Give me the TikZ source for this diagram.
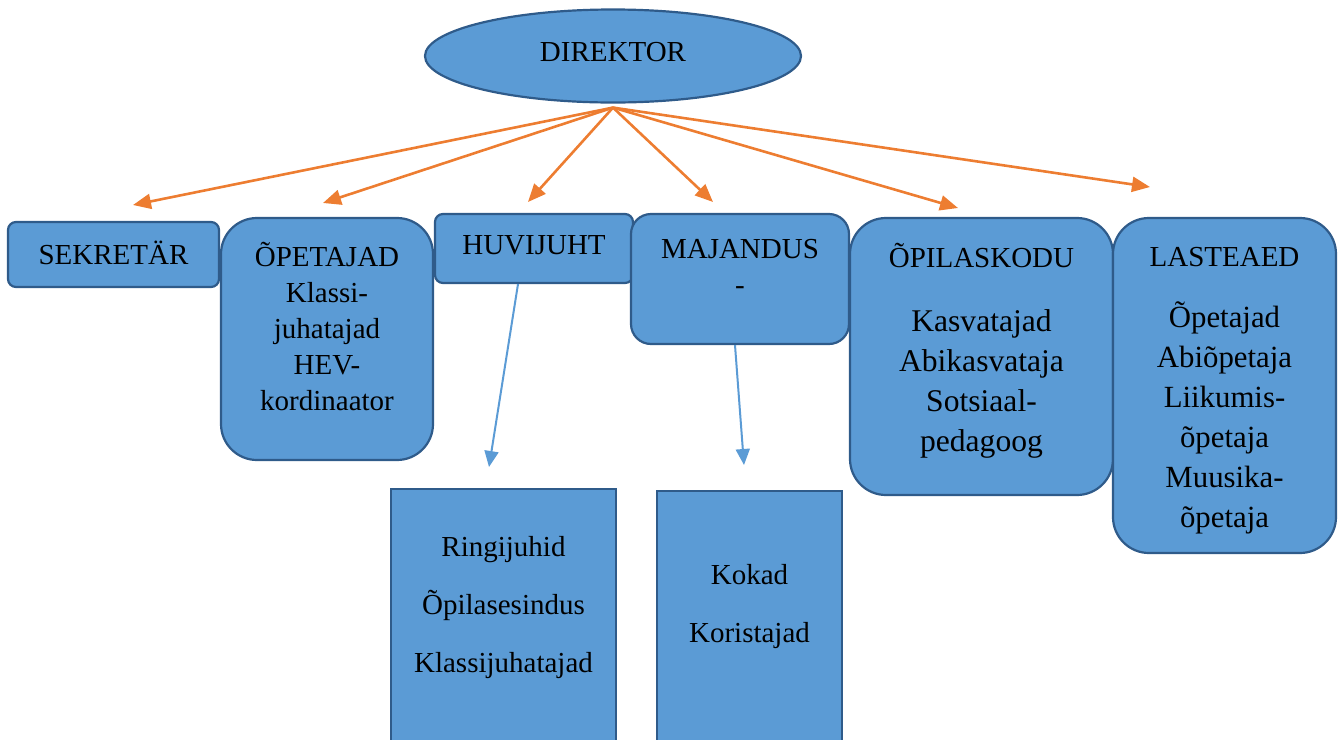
\documentclass[tikz,border=0pt]{standalone}
\usepackage{fontspec}
\setmainfont{Liberation Serif}
\usetikzlibrary{arrows.meta,positioning,shapes.geometric}
\definecolor{kastsinine}{HTML}{5B9BD5}
\definecolor{servsinine}{HTML}{2F5B8A}
\definecolor{noolroosa}{HTML}{ED7D31}

\begin{document}
\begin{tikzpicture}[x=0.5pt,y=-0.5pt,
    kast/.style={draw=servsinine, fill=kastsinine, line width=1.1pt, inner sep=0pt},
    tekst/.style={align=center, inner sep=0pt, font=\fontsize{14.5}{18}\selectfont},
    juhtnool/.style={draw=noolroosa, line width=1.3pt, -{Triangle[length=9pt,width=7.5pt]}},
    alamnool/.style={draw=kastsinine, line width=1pt, -{Triangle[length=8pt,width=7pt]}}]
  \useasboundingbox (0,0) rectangle (1341,740);

  % juhtkond
  \node[kast, ellipse, minimum width=188pt, minimum height=46.5pt,
    font=\fontsize{14.5}{18}\selectfont, text depth=4pt] (direktor) at (613,56) {DIREKTOR};

  % ulemine rida
  \node[kast, rounded corners=4pt, minimum width=105.5pt, minimum height=32.5pt,
    font=\fontsize{14.5}{18}\selectfont, text height=9.6pt, text depth=0pt] (sekretar) at (113.5,254.5) {SEKRETÄR};
  \node[kast, rounded corners=18pt, minimum width=106pt, minimum height=121pt] (opetajad) at (327,339) {};
  \node[tekst, below=12.5pt of opetajad.north] (opetajadtekst)
    {ÕPETAJAD\\Klassi-\\juhatajad\\HEV-\\kordinaator};
  \node[kast, rounded corners=4pt, minimum width=99pt, minimum height=34.5pt] (huvijuht) at (534,248.5) {};
  \node[tekst, below=10.9pt of huvijuht.north] (huvijuhttekst) {HUVIJUHT};
  \node[kast, rounded corners=10pt, minimum width=109pt, minimum height=65pt] (majandus) at (740,279) {};
  \node[tekst, below=12.9pt of majandus.north] (majandustekst) {MAJANDUS\\-};
  \node[kast, rounded corners=18pt, minimum width=131.5pt, minimum height=138.5pt] (opilaskodu) at (981.5,356.5) {};
  \node[tekst, font=\fontsize{15.8}{20}\selectfont, below=13pt of opilaskodu.north] (opilaskodutekst)
    {{\fontsize{14.5}{20}\selectfont ÕPILASKODU}\\[12pt]Kasvatajad\\Abikasvataja\\Sotsiaal-\\pedagoog};
  \node[kast, rounded corners=18pt, minimum width=111.5pt, minimum height=167.5pt] (lasteaed) at (1224.5,385.5) {};
  \node[tekst, font=\fontsize{15.4}{20}\selectfont, below=14.9pt of lasteaed.north] (lasteaedtekst)
    {{\fontsize{14.5}{20}\selectfont LASTEAED}\\[10.5pt]Õpetajad\\Abiõpetaja\\Liikumis-\\õpetaja\\Muusika-\\õpetaja};

  % alumine rida
  \node[kast, minimum width=112.5pt, minimum height=140.5pt] (ringid) at (503.5,629.5) {};
  \node[tekst, font=\fontsize{14.5}{29}\selectfont, below=24.1pt of ringid.north] (ringidtekst)
    {Ringijuhid\\Õpilasesindus\\Klassijuhatajad};
  \node[kast, minimum width=92.5pt, minimum height=139.5pt] (kokad) at (749.5,630.5) {};
  \node[tekst, font=\fontsize{14.5}{29}\selectfont, below=37.1pt of kokad.north] (kokadtekst)
    {Kokad\\Koristajad};

  % noolte otsad
  \coordinate (sekretarots) at (133,205);
  \coordinate (opetajadots) at (323,203);
  \coordinate (huvijuhtots) at (528,202);
  \coordinate (majandusots) at (713,202);
  \coordinate (opilaskoduots) at (958,208);
  \coordinate (lasteaedots) at (1150,187);
  \coordinate (ringidots) at (489,467);
  \coordinate (kokadots) at (744,465);

  \foreach \ots in {sekretarots,opetajadots,huvijuhtots,majandusots,opilaskoduots,lasteaedots}
    \draw[juhtnool] ([yshift=-2pt]direktor.south) -- (\ots);
  \draw[alamnool] ([xshift=-8pt]huvijuht.south) -- (ringidots);
  \draw[alamnool] ([xshift=-2.5pt]majandus.south) -- (kokadots);
\end{tikzpicture}
\end{document}
